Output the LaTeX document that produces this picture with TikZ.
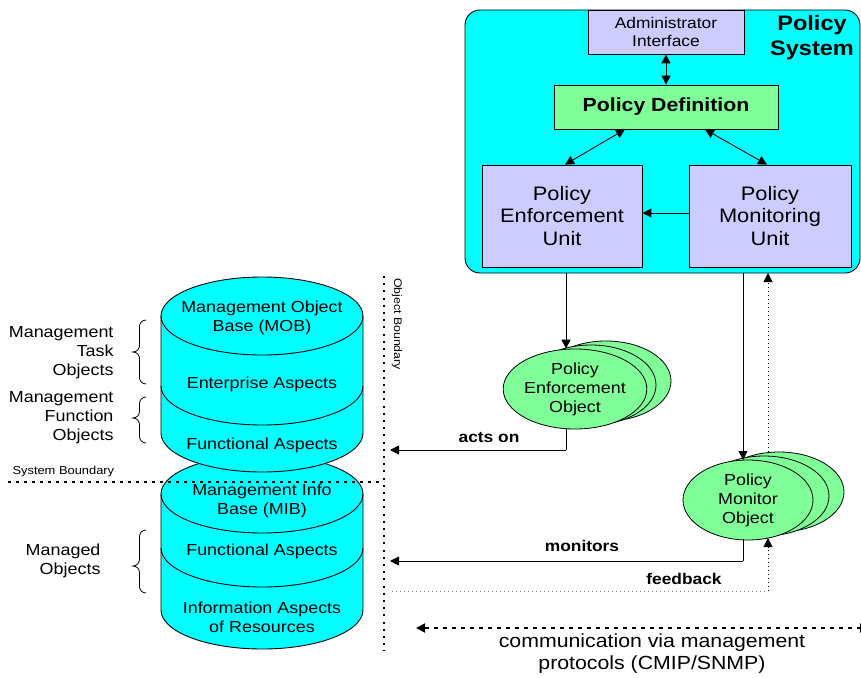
\documentclass[tikz,border=0pt]{standalone}
\usepackage{fontspec}
\setmainfont{Liberation Sans}[FakeStretch=1.12]
\usetikzlibrary{shapes.geometric,arrows.meta,calc}
\definecolor{syscyan}{RGB}{0,255,255}
\definecolor{lavender}{RGB}{204,204,255}
\definecolor{mint}{RGB}{128,255,153}
\newcommand\setfs[2]{\fontsize{#1}{#2}\selectfont}

\tikzset{
  arr/.style={-{Triangle[length=9pt,width=9pt]}, line width=0.9pt},
  darr/.style={{Triangle[length=9pt,width=9pt]}-{Triangle[length=9pt,width=9pt]}, line width=0.9pt},
  unitbox/.style={draw, fill=lavender, line width=0.8pt, align=center, inner sep=0pt},
  objell/.style={ellipse, draw, fill=mint, minimum width=130pt, minimum height=80pt,
                 inner sep=0pt, align=center, line width=0.8pt, font=\setfs{16}{19}},
  cyltext/.style={align=center, font=\setfs{16}{19}},
  sidelabel/.style={align=right, anchor=east, font=\setfs{16}{19}},
  flowlabel/.style={font=\bfseries\setfs{15.5}{18}},
  boundary/.style={line width=1.8pt, dash pattern=on 2pt off 5.2pt},
  sysboundary/.style={line width=1.8pt, dash pattern=on 3pt off 5pt},
  fine dots/.style={line width=0.9pt, dash pattern=on 1.2pt off 2.8pt},
}

% a cylinder drawn as filled body, outline, top ellipse and one divider arc
\newcommand\drawcyl[3]{% #1 top centre y, #2 divider y, #3 bottom y
  \fill[syscyan] (161,#1) -- (161,#3) arc[start angle=180,end angle=360,x radius=101pt,y radius=39pt]
        -- (363,#1) arc[start angle=0,end angle=180,x radius=101pt,y radius=39pt] -- cycle;
  \draw[line width=0.9pt] (161,#1) -- (161,#3) arc[start angle=180,end angle=360,x radius=101pt,y radius=39pt] -- (363,#1);
  \draw[line width=0.9pt] (262,#1) ellipse[x radius=101pt,y radius=39pt];
  \draw[line width=0.9pt] (161,#2) arc[start angle=180,end angle=360,x radius=101pt,y radius=39pt];
}

% left curly brace: #1 top y, #2 tip y, #3 bottom y
\newcommand\curlybrace[3]{%
  \draw[line width=0.8pt] (146,#1) to[out=180,in=90] (139.5,{#1+6.5}) -- (139.5,{#2-6.5})
     to[out=-90,in=0] (133,#2) to[out=0,in=90] (139.5,{#2+6.5}) -- (139.5,{#3-6.5})
     to[out=-90,in=180] (146,#3);
}

\begin{document}
\begin{tikzpicture}[x=1pt,y=-1pt]
\useasboundingbox (0,0) rectangle (861,677);

% ---------- policy system ----------
\node[draw, fill=syscyan, rounded corners=15pt, line width=0.9pt,
      minimum width=395pt, minimum height=263pt, inner sep=0pt] (sys) at (662.5,141.5) {};
\node[align=center, font=\bfseries\setfs{21}{25}] (systitle) at (812,38) {Policy\\System};

\node[unitbox, minimum width=156pt, minimum height=44pt, font=\setfs{15.5}{18}] (admin) at (666,32)
  {Administrator\\Interface};
\node[draw, fill=mint, line width=0.8pt, minimum width=224pt, minimum height=44pt, inner sep=0pt,
      font=\bfseries\setfs{19}{22}] (pdef) at (666,107) {Policy Definition};
\node[unitbox, minimum width=160pt, minimum height=102pt, font=\setfs{19.5}{22.5}] (peu) at (562,216)
  {Policy\\Enforcement\\Unit};
\node[unitbox, minimum width=162pt, minimum height=102pt, font=\setfs{19.5}{22.5}] (pmu) at (770,216)
  {Policy\\Monitoring\\Unit};

\draw[darr] (admin.south) -- (pdef.north);
\draw[darr] ([xshift=-41pt]pdef.south) -- ([xshift=3pt]peu.north);
\draw[darr] ([xshift=39pt]pdef.south) -- ([xshift=-3pt]pmu.north);
\draw[arr] (pmu.west |- 0,213) -- (peu.east |- 0,213);

% ---------- policy objects ----------
\node[objell] (peoB) at (606,381) {};
\node[objell] (peoA) at (591,385) {};
\node[objell] (peo) at (575,389) {Policy\\Enforcement\\Object};

\node[objell] (pmoB) at (779,492) {};
\node[objell] (pmoA) at (764,496) {};
\node[objell] (pmo) at (748,500) {Policy\\Monitor\\Object};

\coordinate (peuOut) at (566,273);
\coordinate (pmuOut) at (743,273);
\coordinate (pmuIn) at (768,273);
\draw[arr] (peuOut) -- (peuOut |- peo.north);
\draw[arr] (pmuOut) -- (743,460);
\draw[fine dots, -{Triangle[length=9pt,width=9pt]}] (768,452) -- (pmuIn);

% ---------- object boundary ----------
\draw[boundary] (384,276) -- (384,651);
\node[rotate=-90, font=\setfs{11}{12}] (oblabel) at (397,324) {Object Boundary};

% ---------- cylinders ----------
\drawcyl{494}{548}{610}
\drawcyl{316}{386}{433}

\node[cyltext] (mob) at (262,318) {Management Object\\Base (MOB)};
\node[cyltext] (ent) at (262,384) {Enterprise Aspects};
\node[cyltext] (fun1) at (262,445) {Functional Aspects};
\node[cyltext] (mib) at (262,501) {Management Info\\Base (MIB)};
\node[cyltext] (fun2) at (262,551) {Functional Aspects};
\node[cyltext] (info) at (262,617) {Information Aspects\\of Resources};

% ---------- system boundary ----------
\draw[sysboundary] (8,482) -- (384,482);
\node[anchor=west, font=\setfs{11.5}{13}] (sblabel) at (9,472) {System Boundary};

% ---------- side labels with braces ----------
\node[sidelabel] (task) at (117,353) {Management\\Task\\Objects};
\node[sidelabel] (func) at (117,418) {Management\\Function\\Objects};
\node[sidelabel] (mngd) at (104,561) {Managed\\Objects};
\curlybrace{320}{352}{384}
\curlybrace{397}{418}{443}
\curlybrace{530}{566}{593}

% ---------- flows between objects ----------
\coordinate (actsTurn) at (566,450);
\coordinate (actsEnd) at (390,450);
\draw[line width=0.9pt] (peo.south -| actsTurn) -- (actsTurn);
\draw[arr] (actsTurn) -- (actsEnd);
\node[flowlabel] (actson) at (489,438) {acts on};

\coordinate (monTurn) at (743,561);
\coordinate (monEnd) at (390,561);
\draw[line width=0.9pt] (743,539) -- (monTurn);
\draw[arr] (monTurn) -- (monEnd);
\node[flowlabel] (monitors) at (582,546) {monitors};

\coordinate (fbStart) at (392,591);
\coordinate (fbTurn) at (768,591);
\draw[fine dots, gray] (fbStart) -- (fbTurn);
\draw[fine dots, -{Triangle[length=9pt,width=9pt]}] (fbTurn) -- (768,538);
\node[flowlabel] (feedback) at (684,579) {feedback};

% ---------- management protocol communication ----------
\coordinate (commL) at (416,628);
\coordinate (commR) at (869,628);
\draw[line width=1.8pt, dash pattern=on 4pt off 5pt,
      {Triangle[length=9pt,width=9pt]}-{Triangle[length=9pt,width=9pt]}] (commL) -- (commR);
\node[align=center, font=\setfs{19}{22}] (commlabel) at (652,654)
  {communication via management\\protocols (CMIP/SNMP)};
\end{tikzpicture}
\end{document}
